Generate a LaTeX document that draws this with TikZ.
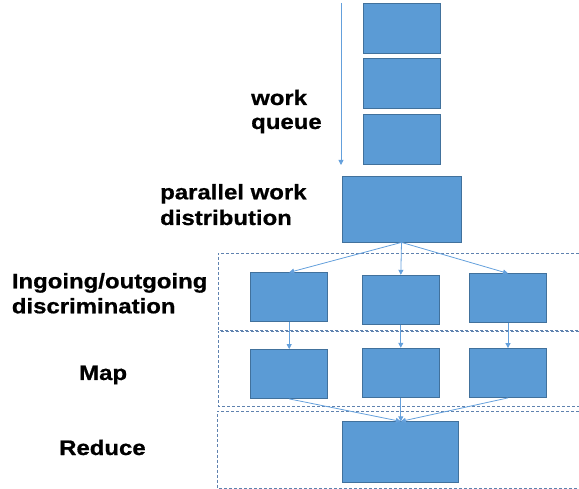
\documentclass[tikz,border=0pt]{standalone}
\usepackage{fontspec}
\setmainfont{Liberation Sans}[FakeStretch=1.14, BoldFeatures={FakeBold=0.8}]
\usetikzlibrary{arrows.meta}
\definecolor{boxfill}{RGB}{91,155,213}
\definecolor{boxline}{RGB}{65,113,156}
\definecolor{arrowc}{RGB}{100,160,220}
\definecolor{dashc}{RGB}{95,130,175}
\tikzset{
  blk/.style={draw=boxline, fill=boxfill, line width=0.8pt, inner sep=0pt},
  qbox/.style={blk, minimum width=77pt, minimum height=50pt},
  rbox/.style={blk, minimum width=77pt, minimum height=49pt},
  lbl/.style={anchor=base west, inner sep=0pt, font=\fontsize{21}{25}\selectfont\bfseries},
  conn/.style={draw=arrowc, line width=0.8pt, -{Triangle[length=5pt,width=5pt]}},
  region/.style={draw=dashc, line width=0.8pt, dash pattern=on 3pt off 2pt}
}
\begin{document}
\begin{tikzpicture}[x=1pt,y=-1pt]
\useasboundingbox (0,0) rectangle (579,489);
% regions
\draw[region] (579,253) -- (218,253) -- (218,330) -- (579,330);
\draw[region] (579,331.5) -- (218,331.5) -- (218,406.5) -- (579,406.5);
\draw[region] (579,411) -- (217.5,411) -- (217.5,488) -- (579,488);
% queue
\node[qbox] (q1) at (401.4,28) {};
\node[qbox] (q2) at (401.4,83.5) {};
\node[qbox] (q3) at (401.4,139) {};
\coordinate (qs) at (341,3);
\coordinate (qe) at (341,165);
\draw[conn] (qs) -- (qe);
% distribution
\node[blk, minimum width=119pt, minimum height=66pt] (dist) at (401.5,209) {};
% row 1
\node[rbox] (a1) at (289.2,297.3) {};
\node[rbox] (b1) at (400.8,299.7) {};
\node[rbox] (c1) at (508,298.3) {};
% row 2
\node[rbox] (a2) at (289.2,374) {};
\node[rbox] (b2) at (400.8,372.7) {};
\node[rbox] (c2) at (508,373) {};
% reduce
\node[blk, minimum width=116pt, minimum height=61pt] (red) at (400.8,452.3) {};
% connectors
\draw[conn] (dist.south) -- (a1.north);
\draw[conn] (dist.south) -- (b1.north);
\draw[conn] (dist.south) -- (c1.north);
\draw[conn] (a1.south) -- (a2.north);
\draw[conn] (b1.south) -- (b2.north);
\draw[conn] (c1.south) -- (c2.north);
\draw[conn] (a2.south) -- (red.north);
\draw[conn] (b2.south) -- (red.north);
\draw[conn] (c2.south) -- (red.north);
% labels
\node[lbl] (t1) at (251,105) {work};
\node[lbl] (t2) at (251,129) {queue};
\node[lbl] (t3) at (160,199.3) {parallel work};
\node[lbl] (t4) at (160,225) {distribution};
\node[lbl] (t5) at (11.7,288.3) {Ingoing/outgoing};
\node[lbl] (t6) at (11.7,313.3) {discrimination};
\node[lbl] (t7) at (79,380) {Map};
\node[lbl] (t8) at (59,455) {Reduce};
\end{tikzpicture}
\end{document}
